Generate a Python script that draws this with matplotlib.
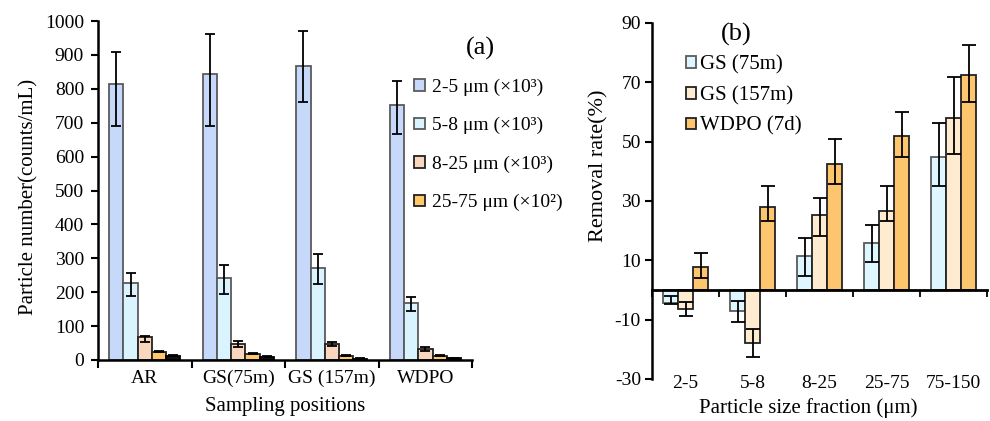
import matplotlib
matplotlib.use("Agg")
import matplotlib.pyplot as plt
import numpy as np
from matplotlib.patches import Patch

plt.rcParams['font.family'] = ['Liberation Serif', 'DejaVu Serif']
plt.rcParams['axes.unicode_minus'] = False

# ---------------- Panel (a) data ----------------
positions = ["AR", "GS(75m)", "GS (157m)", "WDPO"]
size_labels_a = ["2-5 μm (×10³)", "5-8 μm (×10³)", "8-25 μm (×10³)", "25-75 μm (×10²)", None]
a_2_5 = [814, 844, 867, 752]
a_2_5_lo = [124, 154, 105, 85]
a_2_5_hi = [96, 119, 105, 72]
a_5_8 = [228, 243, 272, 167]
a_5_8_lo = [38, 48, 49, 24]
a_5_8_hi = [30, 37, 42, 20]
a_8_25 = [67, 48, 47, 33]
a_8_25_lo = [15, 10, 5, 6]
a_8_25_hi = [5, 9, 5, 4]
a_25_75 = [24, 19, 13, 13]
a_25_75_lo = [2, 2, 1, 1]
a_25_75_hi = [2, 2, 1, 1]
a_75_150 = [13, 10, 4, 5]
a_75_150_lo = [2, 1, 1, 1]
a_75_150_hi = [2, 1, 1, 1]

# ---------------- Panel (b) data ----------------
fractions = ["2-5", "5-8", "8-25", "25-75", "75-150"]
series_b = ["GS (75m)", "GS (157m)", "WDPO (7d)"]
b_gs75 = [-4.3, -7.0, 11.5, 15.8, 44.7]
b_gs75_lo = [0.4, 3.9, 6.9, 6.5, 9.7]
b_gs75_hi = [2.2, 3.2, 6.0, 6.0, 11.4]
b_gs157 = [-6.4, -17.9, 25.1, 26.7, 57.9]
b_gs157_lo = [2.3, 4.8, 7.0, 3.6, 12.1]
b_gs157_hi = [2.5, 4.8, 5.9, 8.4, 14.0]
b_wdpo = [7.6, 27.9, 42.5, 51.8, 72.5]
b_wdpo_lo = [3.6, 4.8, 6.9, 6.9, 9.1]
b_wdpo_hi = [5.0, 7.0, 8.3, 8.2, 9.9]

fig = plt.figure(figsize=(9.9, 4.21), dpi=100)

# ================= Panel (a) =================
axa = fig.add_axes([0.099, 0.145, 0.378, 0.805])
vals_a = [a_2_5, a_5_8, a_8_25, a_25_75, a_75_150]
los_a = [a_2_5_lo, a_5_8_lo, a_8_25_lo, a_25_75_lo, a_75_150_lo]
his_a = [a_2_5_hi, a_5_8_hi, a_8_25_hi, a_25_75_hi, a_75_150_hi]
fc_a = ["#C6D9FA", "#DAF4FF", "#F9D6BE", "#FFC86A", "#111111"]
ec_a = ["#5A5A5A", "#5A5A5A", "#222222", "#222222", "#000000"]
w = 0.152
x = np.arange(len(positions))
for i in range(5):
    axa.bar(x + (i - 2) * w, vals_a[i], width=w, color=fc_a[i], edgecolor=ec_a[i],
            linewidth=1.3, yerr=[los_a[i], his_a[i]], capsize=3.5,
            error_kw=dict(elinewidth=1.3, capthick=1.3, ecolor='black'), zorder=2)
axa.set_xlim(-0.5, 3.5)
axa.set_ylim(0, 1000)
axa.set_yticks(np.arange(0, 1001, 100))
axa.set_xticks(np.arange(-0.5, 3.6, 1.0))
axa.set_xticklabels([])
axa.set_xticks(x, minor=True)
axa.set_xticklabels(positions, minor=True)
axa.tick_params(axis='x', which='major', direction='out', length=6, width=1.5)
axa.tick_params(axis='x', which='minor', length=0, pad=7, labelsize=14)
axa.tick_params(axis='y', direction='out', length=5, width=1.5, pad=5, labelsize=14)
for s in ['top', 'right']:
    axa.spines[s].set_visible(False)
for s in ['left', 'bottom']:
    axa.spines[s].set_linewidth(1.8)
axa.set_ylabel("Particle number(counts/mL)", fontsize=15)
axa.yaxis.set_label_coords(-0.16, 0.48)
axa.set_xlabel("Sampling positions", fontsize=15)
axa.xaxis.set_label_coords(0.5, -0.11)
axa.text(1.021, 0.92, "(a)", transform=axa.transAxes, fontsize=19, ha='center', va='center')
handles_a = [Patch(facecolor=fc_a[i], edgecolor=ec_a[i], linewidth=1.3, label=size_labels_a[i])
             for i in range(4)]
axa.legend(handles=handles_a, loc='upper left', bbox_to_anchor=(0.845, 0.83), frameon=False,
           fontsize=14, handlelength=0.55, handleheight=0.55, handletextpad=0.35,
           labelspacing=1.09, borderaxespad=0, borderpad=0)

# ================= Panel (b) =================
axb = fig.add_axes([0.6586, 0.0998, 0.3384, 0.846])
vals_b = [b_gs75, b_gs157, b_wdpo]
los_b = [b_gs75_lo, b_gs157_lo, b_wdpo_lo]
his_b = [b_gs75_hi, b_gs157_hi, b_wdpo_hi]
fc_b = ["#DDF6FF", "#FFEBCF", "#FDC66E"]
ec_b = ["#5A5A5A", "#222222", "#222222"]
wb = 0.224
xb = np.arange(len(fractions))
for i in range(3):
    axb.bar(xb + (i - 1) * wb, vals_b[i], width=wb, color=fc_b[i], edgecolor=ec_b[i],
            linewidth=1.3, yerr=[los_b[i], his_b[i]], capsize=5,
            error_kw=dict(elinewidth=1.3, capthick=1.3, ecolor='black'), zorder=2,
            label=series_b[i])
axb.set_xlim(-0.5, 4.5)
axb.set_ylim(-30, 90)
axb.set_yticks(np.arange(-30, 91, 20))
axb.spines['bottom'].set_position(('data', 0))
axb.spines['bottom'].set_linewidth(2.0)
axb.spines['left'].set_linewidth(1.8)
for s in ['top', 'right']:
    axb.spines[s].set_visible(False)
axb.set_xticks(np.arange(-0.5, 4.6, 1.0))
axb.set_xticklabels([])
axb.tick_params(axis='x', which='major', direction='out', length=5, width=1.3)
axb.tick_params(axis='y', direction='out', length=5, width=1.5, pad=3, labelsize=14)
sec = axb.secondary_xaxis(0)
sec.spines['bottom'].set_visible(False)
sec.set_xticks(xb)
sec.set_xticklabels(fractions)
sec.tick_params(axis='x', length=0, pad=-3, labelsize=14)
axb.set_xlabel("Particle size fraction (μm)", fontsize=15)
axb.xaxis.set_label_coords(0.466, -0.053)
axb.set_ylabel("Removal rate(%)", fontsize=16)
axb.yaxis.set_label_coords(-0.13, 0.60)
axb.text(0.251, 0.966, "(b)", transform=axb.transAxes, fontsize=19, ha='center', va='center')
axb.legend(loc='upper left', bbox_to_anchor=(0.101, 0.91), frameon=False,
           fontsize=15, handlelength=0.5, handleheight=0.5, handletextpad=0.2,
           labelspacing=0.56, borderaxespad=0, borderpad=0)

fig.savefig("out.png", dpi=100)
